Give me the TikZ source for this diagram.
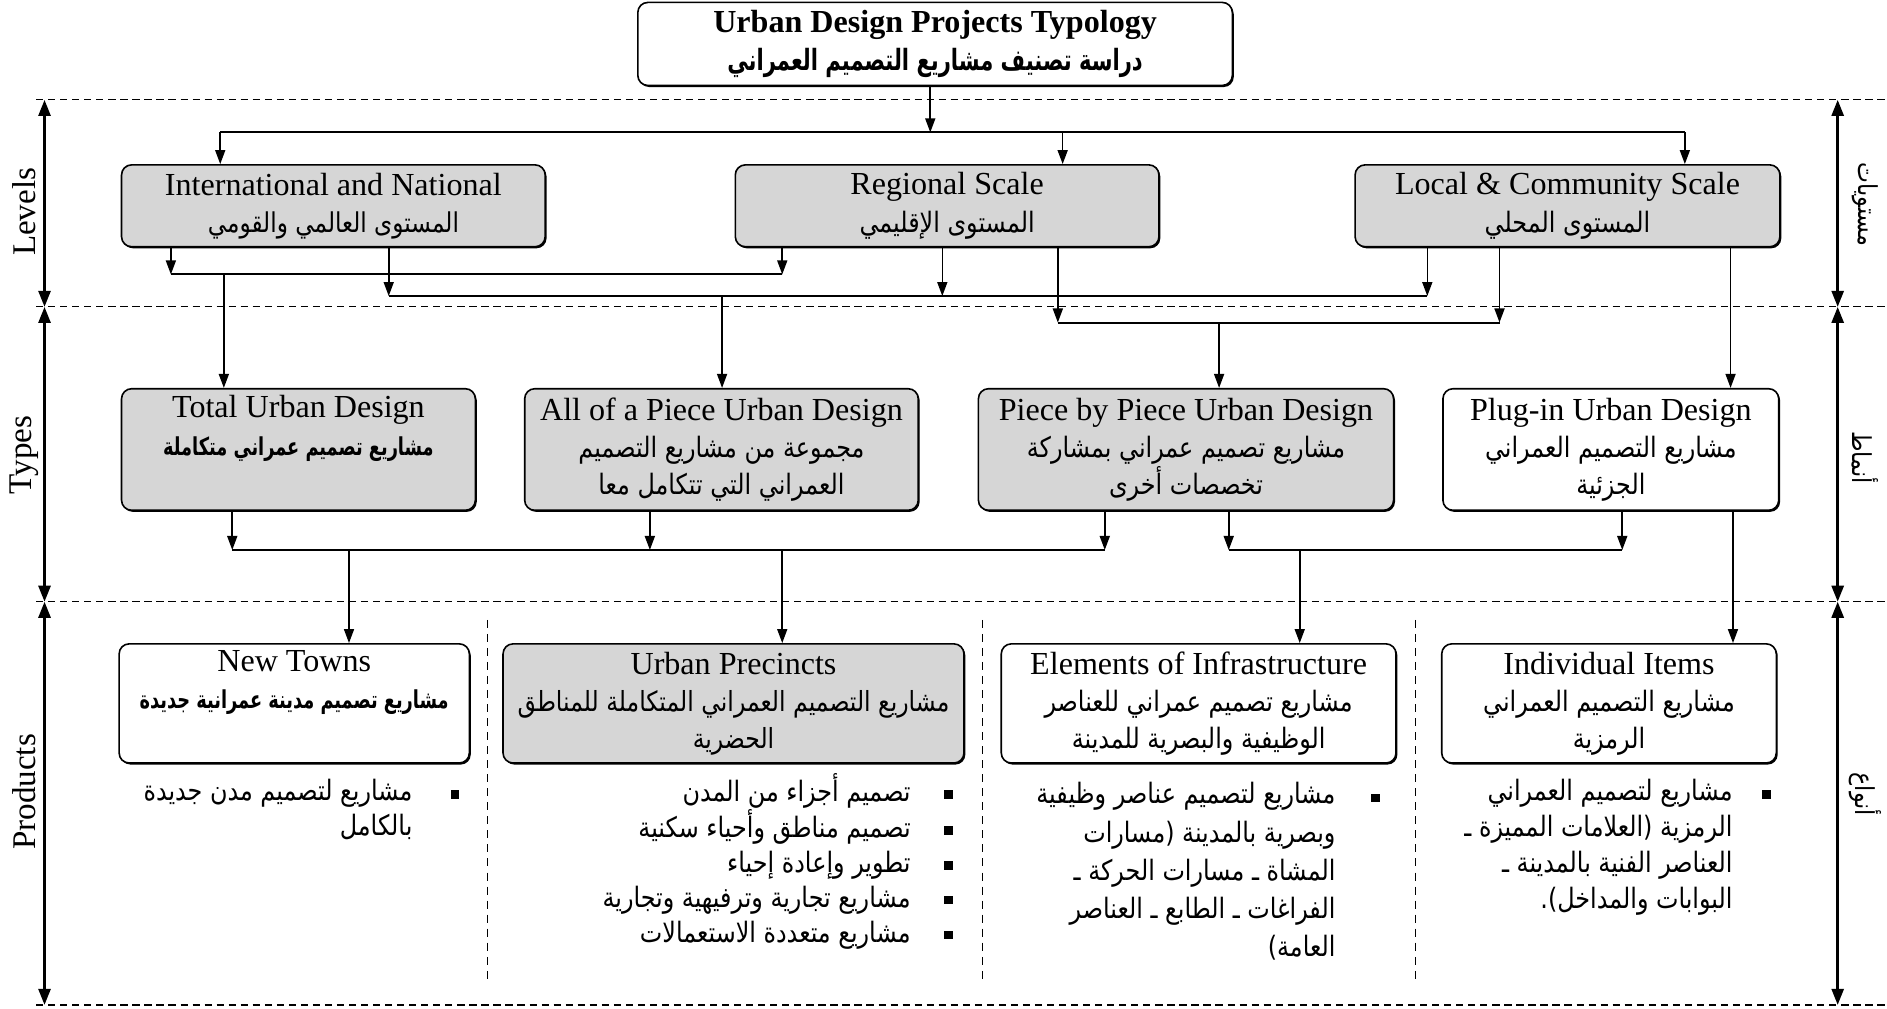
\documentclass[tikz,border=0pt]{standalone}
\usepackage{fontspec}
\setmainfont{Liberation Serif}
\newfontfamily\arabicfont[Script=Arabic,FakeStretch=0.85]{DejaVu Sans}
\newfontfamily\arabicbf[Script=Arabic,FakeStretch=0.72]{DejaVu Sans Bold}
\TeXXeTstate=1
\usetikzlibrary{arrows.meta,shadows}
\definecolor{boxgray}{RGB}{214,214,214}
\newcommand{\AR}[2][14]{{\arabicfont\fontsize{#1}{#1}\selectfont\beginR #2\endR}}
\newcommand{\ARB}[2][12.3]{{\arabicbf\fontsize{#1}{#1}\selectfont\beginR #2\endR}}
\newcommand{\ubox}[7]{\node[#6, minimum width={(#4-#2)*0.6pt}, minimum height={(#5-#3)*0.6pt}] (#1) at ({(#2+#4)/2},{(#3+#5)/2}) {#7};}
\tikzset{
  box/.style={draw, rounded corners=5pt, line width=0.8pt, fill=white, inner sep=0pt, align=center,
    font=\fontsize{16}{18.5}\selectfont, drop shadow={shadow xshift=0.7pt, shadow yshift=-0.8pt, fill=black, opacity=1}},
  gbox/.style={box, fill=boxgray},
  conn/.style={line width=0.8pt},
  hconn/.style={line width=1pt},
  arr/.style={conn, -{Triangle[length=7pt,width=5pt]}},
  guide/.style={line width=0.6pt, dash pattern=on 3.6pt off 2.4pt},
  sep/.style={line width=0.5pt, dash pattern=on 4pt off 3pt},
  axis/.style={line width=1.3pt, {Triangle[length=8pt,width=6pt]}-{Triangle[length=8pt,width=6pt]}},
  sidelbl/.style={rotate=90, font=\fontsize{16.5}{18}\selectfont},
  sidear/.style={rotate=-90},
  bsq/.style={fill=black, minimum size=4.2pt, inner sep=0pt},
  btext/.style={anchor=north east, align=right, inner sep=0pt, font=\fontsize{12.5}{17.7}\selectfont},
  bline/.style={anchor=base east, inner sep=0pt},
}
\begin{document}
\begin{tikzpicture}[x=0.6pt,y=-0.6pt]
\useasboundingbox (0,0) rectangle (1568,838);
% horizontal guides
\foreach \y [count=\i] in {83,255,500,835} {
  \coordinate (ha\i) at (30,\y); \coordinate (hb\i) at (1568,\y);
  \draw[guide] (ha\i) -- (hb\i);
  \coordinate (al\i) at (37,\y); \coordinate (ar\i) at (1527,\y);
}
\draw[axis] (al1) -- (al2); \draw[axis] (al2) -- (al3); \draw[axis] (al3) -- (al4);
\draw[axis] (ar1) -- (ar2); \draw[axis] (ar2) -- (ar3); \draw[axis] (ar3) -- (ar4);
\node[sidelbl] (lvl) at (20,176) {Levels};
\node[sidelbl] (typ) at (20,378) {Types};
\node[sidelbl] (prd) at (20,658) {Products};
\node[sidear] (rlvl) at (1550,170) {\AR[13]{مستويات}};
\node[sidear] (rtyp) at (1550,380) {\AR[13]{أنماط}};
\node[sidear] (rprd) at (1550,660) {\AR[13]{أنواع}};
% separators
\foreach \x [count=\i] in {405,816,1176} {
  \coordinate (sa\i) at (\x,515); \coordinate (sb\i) at (\x,815);
  \draw[sep] (sa\i) -- (sb\i);
}
% boxes
\ubox{top}{530}{2}{1024}{71}{box}{\textbf{Urban Design Projects Typology}\\ \ARB[14.6]{دراسة تصنيف مشاريع التصميم العمراني}}
\ubox{intl}{101}{137}{453}{205}{gbox}{International and National\\ \AR[13.6]{المستوى العالمي والقومي}}
\ubox{reg}{611}{137}{963}{205}{gbox}{Regional Scale\\ \AR{المستوى الإقليمي}}
\ubox{loc}{1126}{137}{1479}{205}{gbox}{Local \& Community Scale\\ \AR{المستوى المحلي}}
\ubox{total}{101}{323}{395}{424}{gbox}{Total Urban Design\\ \ARB{مشاريع تصميم عمراني متكاملة}\\ \strut}
\ubox{allp}{436}{323}{763}{424}{gbox}{All of a Piece Urban Design\\ \AR{مجموعة من مشاريع التصميم}\\ \AR{العمراني التي تتكامل معا}}
\ubox{pbp}{813}{323}{1158}{424}{gbox}{Piece by Piece Urban Design\\ \AR{مشاريع تصميم عمراني بمشاركة}\\ \AR{تخصصات أخرى}}
\ubox{plug}{1199}{323}{1478}{424}{box}{Plug-in Urban Design\\ \AR{مشاريع التصميم العمراني}\\ \AR{الجزئية}}
\ubox{newt}{99}{535}{390}{634}{box}{New Towns\\ \ARB{مشاريع تصميم مدينة عمرانية جديدة}\\ \strut}
\ubox{prec}{418}{535}{801}{634}{gbox}{Urban Precincts\\ \AR[13.8]{مشاريع التصميم العمراني المتكاملة للمناطق}\\ \AR[13.8]{الحضرية}}
\ubox{infra}{832}{535}{1160}{634}{box}{Elements of Infrastructure\\ \AR{مشاريع تصميم عمراني للعناصر}\\ \AR{الوظيفية والبصرية للمدينة}}
\ubox{indiv}{1198}{535}{1476}{634}{box}{Individual Items\\ \AR{مشاريع التصميم العمراني}\\ \AR{الرمزية}}
% top distribution
\coordinate (t0) at (773,110);
\coordinate (t1) at (183,110); \coordinate (t2) at (883,110); \coordinate (t3) at (1400,110);
\draw[arr] (top.south -| t0) -- (t0);
\draw[hconn] (t1) -- (t3);
\draw[arr] (t1) -- (intl.north -| t1);
\draw[arr] (t2) -- (reg.north -| t2);
\draw[arr] (t3) -- (loc.north -| t3);
% line A
\coordinate (a1) at (142,228); \coordinate (a2) at (650,228); \coordinate (a3) at (186,228);
\draw[arr] (intl.south -| a1) -- (a1);
\draw[arr] (reg.south -| a2) -- (a2);
\draw[hconn] (a1) -- (a2);
\draw[arr] (a3) -- (total.north -| a3);
% line B
\coordinate (b1) at (323,246); \coordinate (b2) at (783,246); \coordinate (b3) at (1186,246); \coordinate (b4) at (600,246);
\draw[arr] (intl.south -| b1) -- (b1);
\draw[arr] (reg.south -| b2) -- (b2);
\draw[arr] (loc.south -| b3) -- (b3);
\draw[hconn] (b1) -- (b3);
\draw[arr] (b4) -- (allp.north -| b4);
% line C
\coordinate (c1) at (879,268); \coordinate (c2) at (1246,268); \coordinate (c3) at (1013,268);
\draw[arr] (reg.south -| c1) -- (c1);
\draw[arr] (loc.south -| c2) -- (c2);
\draw[hconn] (c1) -- (c2);
\draw[arr] (c3) -- (pbp.north -| c3);
\coordinate (lp) at (1438,300);
\draw[arr] (loc.south -| lp) -- (plug.north -| lp);
% line D
\coordinate (d1) at (193,457); \coordinate (d2) at (540,457); \coordinate (d3) at (918,457);
\coordinate (d4) at (290,457); \coordinate (d5) at (650,457);
\draw[arr] (total.south -| d1) -- (d1);
\draw[arr] (allp.south -| d2) -- (d2);
\draw[arr] (pbp.south -| d3) -- (d3);
\draw[hconn] (d1) -- (d3);
\draw[arr] (d4) -- (newt.north -| d4);
\draw[arr] (d5) -- (prec.north -| d5);
% line E
\coordinate (e1) at (1021,457); \coordinate (e2) at (1348,457); \coordinate (e3) at (1080,457);
\draw[arr] (pbp.south -| e1) -- (e1);
\draw[arr] (plug.south -| e2) -- (e2);
\draw[hconn] (e1) -- (e2);
\draw[arr] (e3) -- (infra.north -| e3);
\coordinate (ip) at (1440,480);
\draw[arr] (plug.south -| ip) -- (indiv.north -| ip);
% bullets
\node[bsq] (nbq) at (378,660) {};
\node[btext] (nbt) at (343,647) {\AR{مشاريع لتصميم مدن جديدة}\\ \AR{بالكامل}};
\foreach \y/\t [count=\i] in {660/{تصميم أجزاء من المدن},690/{تصميم مناطق وأحياء سكنية},719/{تطوير وإعادة إحياء},748/{مشاريع تجارية وترفيهية وتجارية},777/{مشاريع متعددة الاستعمالات}} {
  \node[bsq] (pbq\i) at (788,\y) {};
  \node[bline] (pbt\i) at (757,\y+6) {\AR{\t}};
}
\node[bsq] (ibq) at (1143,663) {};
\node[btext, font=\fontsize{12.5}{19}\selectfont] (ibt) at (1110,650) {\AR{مشاريع لتصميم عناصر وظيفية}\\ \AR{وبصرية بالمدينة (مسارات}\\ \AR{المشاة ـ مسارات الحركة ـ}\\ \AR{الفراغات ـ الطابع ـ العناصر}\\ \AR{العامة)}};
\node[bsq] (dbq) at (1468,660) {};
\node[btext, font=\fontsize{12.5}{18}\selectfont] (dbt) at (1440,647) {\AR{مشاريع لتصميم العمراني}\\ \AR{الرمزية (العلامات المميزة ـ}\\ \AR{العناصر الفنية بالمدينة ـ}\\ \AR{البوابات والمداخل).}};
\end{tikzpicture}
\end{document}
